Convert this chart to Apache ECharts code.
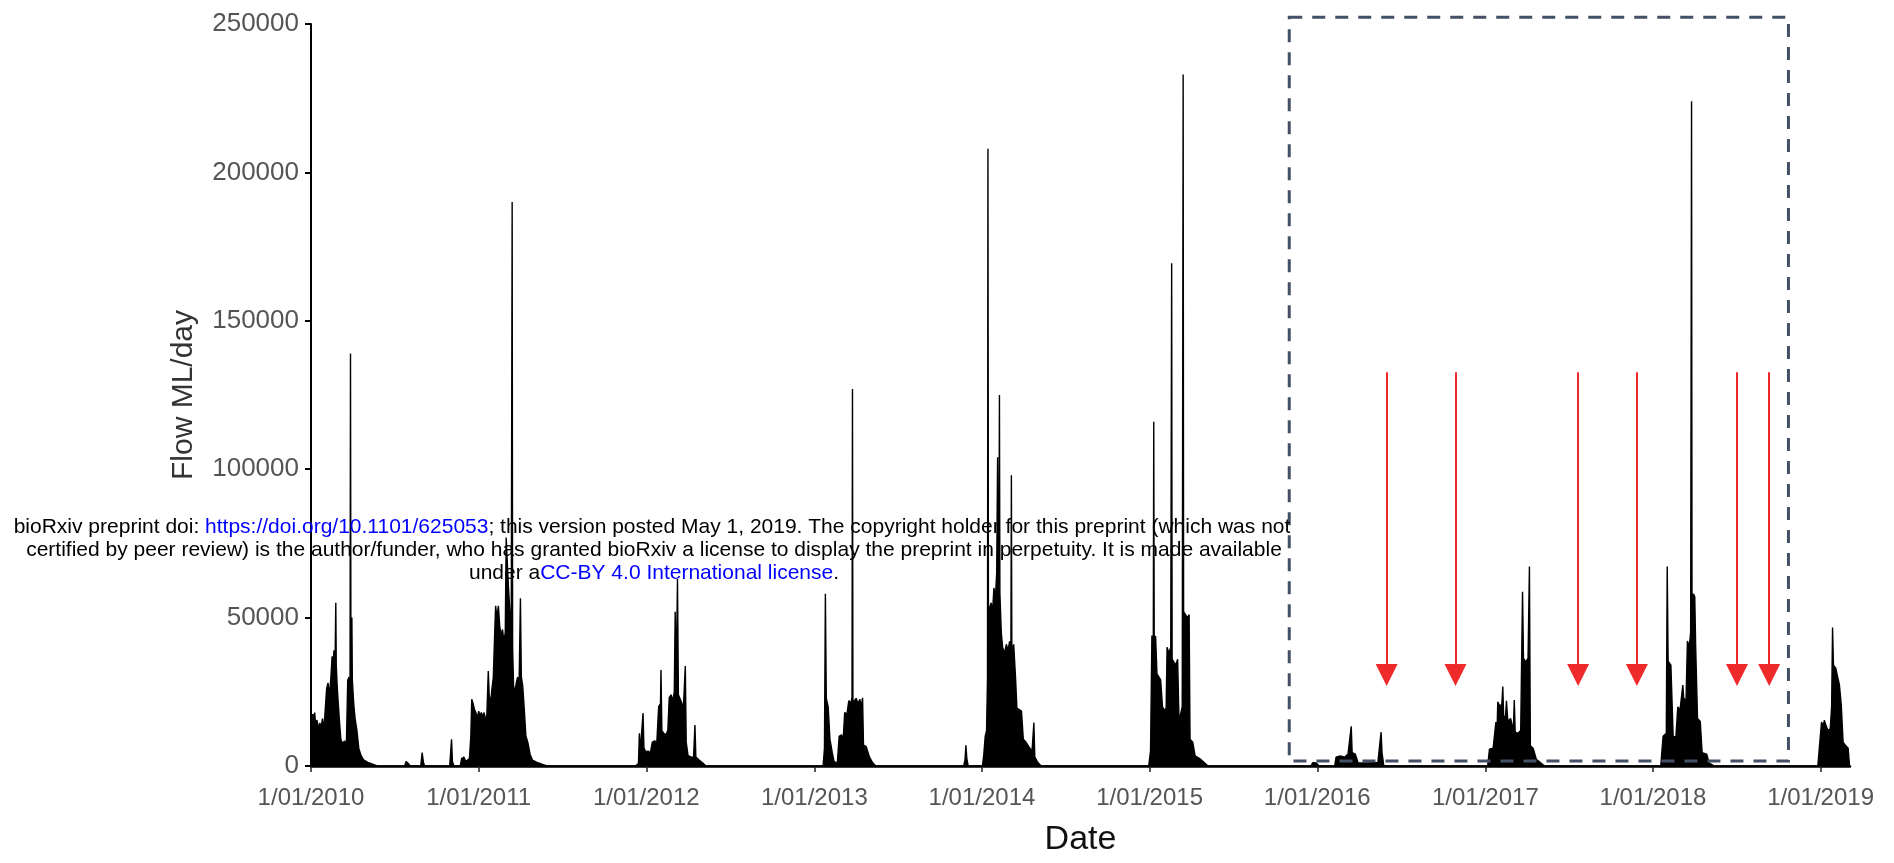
<!DOCTYPE html>
<html>
<head>
<meta charset="utf-8">
<script src="https://cdn.jsdelivr.net/npm/echarts@6/dist/echarts.min.js"></script>
<style>
html,body{margin:0;padding:0;background:#fff;}
#c{width:1894px;height:863px;}
</style>
</head>
<body>
<div id="c"></div>
<script>
// ---- tick labels ----
const xTickDates = ['2010-01-01','2011-01-01','2012-01-01','2013-01-01','2014-01-01','2015-01-01','2016-01-01','2017-01-01','2018-01-01','2019-01-01'];
const xTickLabels = ['1/01/2010','1/01/2011','1/01/2012','1/01/2013','1/01/2014','1/01/2015','1/01/2016','1/01/2017','1/01/2018','1/01/2019'];
const yTickLabels = ['0','50000','100000','150000','200000','250000'];
const xStart = '2010-01-01';
const xEnd = '2019-03-06';

// ---- daily flow (ML/day) ----
const flow2010 = [
['2010-01-01',14000],['2010-01-03',15000],['2010-01-05',17500],['2010-01-07',16000],['2010-01-09',18000],
['2010-01-11',14000],['2010-01-14',15500],['2010-01-17',12500],['2010-01-20',14500],['2010-01-23',13000],
['2010-01-26',16000],['2010-01-29',12000],['2010-02-01',19000],['2010-02-04',26000],['2010-02-07',28000],
['2010-02-10',24000],['2010-02-13',29000],['2010-02-16',37000],['2010-02-18',33000],['2010-02-20',39000],
['2010-02-22',30000],['2010-02-24',55000],['2010-02-25',34000],['2010-02-27',27000],['2010-03-01',22000],
['2010-03-04',15000],['2010-03-07',9000],['2010-03-11',7500],['2010-03-15',8500],['2010-03-19',7000],
['2010-03-22',29000],['2010-03-25',30000],['2010-03-27',24000],['2010-03-28',139000],['2010-03-29',27000],
['2010-03-31',50000],['2010-04-01',29000],['2010-04-04',21000],['2010-04-07',16000],['2010-04-11',12000],
['2010-04-15',6000],['2010-04-20',3500],['2010-04-26',2000],['2010-05-05',1200],['2010-05-15',600],
['2010-05-25',0],['2010-07-24',0],['2010-07-27',1500],['2010-08-01',800],['2010-08-05',0],
['2010-08-28',0],['2010-08-31',4500],['2010-09-03',1000],['2010-09-06',0],['2010-10-30',0],
['2010-11-03',9000],['2010-11-05',1500],['2010-11-08',0],['2010-11-22',0],['2010-11-25',2500],
['2010-11-30',3000],['2010-12-04',1500]
];
const flow2011 = [
['2010-12-12',2500],['2010-12-15',10000],['2010-12-17',22500],['2010-12-20',21000],['2010-12-23',19000],
['2010-12-26',18000],['2010-12-29',16000],['2011-01-01',18500],['2011-01-04',17000],['2011-01-07',18000],
['2011-01-10',16500],['2011-01-13',18000],['2011-01-16',15000],['2011-01-19',17500],['2011-01-22',32000],
['2011-01-24',24000],['2011-01-27',21000],['2011-01-30',26000],['2011-02-02',30000],['2011-02-05',45000],
['2011-02-07',54000],['2011-02-10',50000],['2011-02-13',54000],['2011-02-16',47000],['2011-02-19',44000],
['2011-02-22',46000],['2011-02-25',42000],['2011-02-28',45000],['2011-03-02',77000],['2011-03-04',70000],
['2011-03-07',60000],['2011-03-10',52000],['2011-03-13',45000],['2011-03-15',190000],['2011-03-16',40000],
['2011-03-18',27000],['2011-03-21',25000],['2011-03-24',28000],['2011-03-27',30000],['2011-03-30',26000],
['2011-04-02',56500],['2011-04-04',30000],['2011-04-07',27000],['2011-04-10',20000],['2011-04-14',10000],
['2011-04-18',8000],['2011-04-23',4000],['2011-04-28',2000],['2011-05-08',1200],['2011-05-20',500],
['2011-05-30',0]
];
const flow2012 = [
['2011-12-08',0],['2011-12-11',600],['2011-12-15',800],['2011-12-17',11000],['2011-12-19',5000],
['2011-12-22',5500],['2011-12-25',17800],['2011-12-27',6000],['2011-12-31',4800],['2012-01-05',5000],
['2012-01-10',4500],['2012-01-14',8000],['2012-01-19',8500],['2012-01-24',8000],['2012-01-28',20000],
['2012-02-01',21000],['2012-02-02',32300],['2012-02-04',12000],['2012-02-08',11000],['2012-02-13',10500],
['2012-02-17',12000],['2012-02-20',23000],['2012-02-24',24000],['2012-02-28',22000],['2012-03-02',25000],
['2012-03-04',52000],['2012-03-06',28000],['2012-03-09',63000],['2012-03-11',24000],['2012-03-15',22500],
['2012-03-19',21000],['2012-03-22',20000],['2012-03-26',33700],['2012-03-28',8000],['2012-04-01',3500],
['2012-04-08',3000],['2012-04-13',3000],['2012-04-16',13800],['2012-04-18',3000],['2012-04-25',2000],
['2012-05-03',1000],['2012-05-10',0]
];
const flow2013 = [
['2013-01-20',0],['2013-01-23',6000],['2013-01-25',58000],['2013-01-27',22800],['2013-01-31',20000],
['2013-02-04',9000],['2013-02-09',4500],['2013-02-13',1500],['2013-02-20',1000],['2013-02-24',10000],
['2013-03-01',10500],['2013-03-05',9500],['2013-03-08',18000],['2013-03-13',17500],['2013-03-17',22000],
['2013-03-21',21000],['2013-03-24',23000],['2013-03-25',127000],['2013-03-26',20000],['2013-03-29',22000],
['2013-04-02',22800],['2013-04-06',21000],['2013-04-10',22500],['2013-04-13',20000],['2013-04-16',23000],
['2013-04-18',7000],['2013-04-24',6500],['2013-05-01',3000],['2013-05-08',1100],['2013-05-15',0],
['2013-11-22',0],['2013-11-25',2000],['2013-11-27',7000],['2013-11-29',2500],['2013-12-02',0]
];
const flow2014 = [
['2014-01-02',0],['2014-01-05',4000],['2014-01-08',10000],['2014-01-11',12000],['2014-01-13',30000],
['2014-01-14',208000],['2014-01-15',50000],['2014-01-18',53500],['2014-01-21',55000],['2014-01-24',52000],
['2014-01-27',60000],['2014-01-30',56000],['2014-02-02',65000],['2014-02-04',104000],['2014-02-05',60000],
['2014-02-07',75000],['2014-02-08',125000],['2014-02-09',58000],['2014-02-12',45000],['2014-02-15',40000],
['2014-02-19',38000],['2014-02-23',41000],['2014-02-27',39000],['2014-03-02',42000],['2014-03-05',40000],
['2014-03-06',98000],['2014-03-07',38000],['2014-03-11',41000],['2014-03-15',30000],['2014-03-18',19500],
['2014-03-23',19000],['2014-03-28',18500],['2014-04-01',9000],['2014-04-07',8000],['2014-04-13',6500],
['2014-04-20',5000],['2014-04-24',14600],['2014-04-26',3000],['2014-05-03',1100],['2014-05-10',0]
];
const flow2015 = [
['2014-12-30',0],['2015-01-03',5000],['2015-01-06',44000],['2015-01-09',40000],['2015-01-10',116000],
['2015-01-11',42000],['2015-01-14',43800],['2015-01-17',31000],['2015-01-21',30000],['2015-01-25',29000],
['2015-01-29',20000],['2015-02-02',18800],['2015-02-06',19500],['2015-02-08',40000],['2015-02-12',38000],
['2015-02-16',40000],['2015-02-18',169400],['2015-02-19',36000],['2015-02-23',35900],['2015-02-27',34000],
['2015-03-03',36000],['2015-03-06',15000],['2015-03-10',14800],['2015-03-13',20000],['2015-03-15',233000],
['2015-03-16',52000],['2015-03-20',51800],['2015-03-24',50000],['2015-03-28',51000],['2015-03-30',9000],
['2015-04-05',8000],['2015-04-10',3400],['2015-04-20',2500],['2015-05-01',1000],['2015-05-08',0]
];
const flow2016 = [
['2015-12-18',0],['2015-12-22',1100],['2015-12-30',1000],['2016-01-05',0],['2016-02-08',0],
['2016-02-11',3000],['2016-02-20',3400],['2016-03-01',3000],['2016-03-08',4000],['2016-03-15',13400],
['2016-03-17',4500],['2016-03-24',4000],['2016-03-30',1000],['2016-04-20',1000],['2016-05-12',1200],
['2016-05-19',11400],['2016-05-21',4500],['2016-05-25',0]
];
const flow2017 = [
['2017-01-06',0],['2017-01-10',5700],['2017-01-18',6000],['2017-01-24',14800],['2017-01-26',8000],
['2017-01-28',21600],['2017-02-02',20000],['2017-02-06',21000],['2017-02-08',26800],['2017-02-10',16000],
['2017-02-14',17000],['2017-02-16',22000],['2017-02-19',15000],['2017-02-25',16000],['2017-03-03',12000],
['2017-03-05',22200],['2017-03-07',11400],['2017-03-13',11000],['2017-03-19',12000],['2017-03-23',58700],
['2017-03-25',36400],['2017-03-30',35000],['2017-04-04',36400],['2017-04-07',67200],['2017-04-09',6800],
['2017-04-15',6000],['2017-04-22',2300],['2017-05-02',1000],['2017-05-10',0]
];
const flow2018 = [
['2018-01-18',0],['2018-01-23',10000],['2018-01-30',11000],['2018-02-01',67200],['2018-02-03',35300],
['2018-02-09',34000],['2018-02-14',9700],['2018-02-20',10000],['2018-02-24',19900],['2018-03-01',19000],
['2018-03-07',27300],['2018-03-09',22800],['2018-03-14',22000],['2018-03-17',42100],['2018-03-21',40000],
['2018-03-24',45000],['2018-03-26',224000],['2018-03-27',55000],['2018-03-30',58000],['2018-04-02',57000],
['2018-04-04',40000],['2018-04-08',16000],['2018-04-14',15000],['2018-04-18',4500],['2018-04-28',4000],
['2018-05-03',1100],['2018-05-14',0]
];
const flow2019 = [
['2018-12-26',0],['2018-12-29',5700],['2019-01-03',14800],['2019-01-07',13500],['2019-01-09',15400],
['2019-01-12',14000],['2019-01-17',12000],['2019-01-22',12500],['2019-01-25',20000],['2019-01-27',46700],
['2019-01-29',34000],['2019-02-03',33000],['2019-02-07',30000],['2019-02-11',27300],['2019-02-15',20500],
['2019-02-19',8000],['2019-02-25',6800],['2019-03-02',6000],['2019-03-05',0]
];

// ---- annotations ----
const boxCorners = [['2015-11-01', 1700], ['2018-10-23', 252300]];
const arrowDates = ['2016-05-31','2016-10-28','2017-07-22','2017-11-27','2018-07-03','2018-09-11'];
const arrowTop = 132700;
const arrowEnd = 30700;

function toTs(s){ const p = s.split('-').map(Number); return Date.UTC(p[0], p[1]-1, p[2]); }

const flowData = [].concat(flow2010, flow2011, flow2012, flow2013, flow2014, flow2015, flow2016, flow2017, flow2018, flow2019)
  .map(d => [toTs(d[0]), d[1]]);
const tickTs = xTickDates.map(toTs);
const boxData = [[toTs(boxCorners[0][0]), boxCorners[0][1], toTs(boxCorners[1][0]), boxCorners[1][1]]];
const FONT = '"Liberation Sans", Arial, Helvetica, sans-serif';

const chart = echarts.init(document.getElementById('c'), null, {renderer: 'canvas'});
chart.setOption({
  animation: false,
  backgroundColor: '#ffffff',
  grid: { left: 311, top: 24, width: 1539, height: 742, containLabel: false },
  xAxis: {
    type: 'value', min: toTs(xStart), max: toTs(xEnd),
    name: 'Date', nameLocation: 'middle', nameGap: 57,
    nameTextStyle: { fontSize: 34, color: '#111', fontFamily: FONT },
    axisLine: { show: true, lineStyle: { color: '#000', width: 2.5 } },
    axisTick: { show: true, length: 6, lineStyle: { color: '#222', width: 1.5 }, customValues: tickTs },
    axisLabel: {
      customValues: tickTs, color: '#555', fontSize: 24, fontFamily: FONT, margin: 20,
      showMinLabel: true, showMaxLabel: true,
      formatter: v => { const i = tickTs.indexOf(v); return i >= 0 ? xTickLabels[i] : ''; }
    },
    splitLine: { show: false }
  },
  yAxis: {
    type: 'value', min: 0, max: 250000, interval: 50000,
    name: 'Flow ML/day', nameLocation: 'middle', nameGap: 112,
    nameTextStyle: { fontSize: 30, color: '#333', fontFamily: FONT },
    axisLine: { show: true, lineStyle: { color: '#000', width: 2 } },
    axisTick: { show: true, length: 6, lineStyle: { color: '#000', width: 2 } },
    axisLabel: { color: '#555', fontSize: 26, fontFamily: FONT, margin: 12,
      formatter: v => yTickLabels[Math.round(v / 50000)] },
    splitLine: { show: false }
  },
  series: [{
    type: 'line', data: flowData, symbol: 'none', showSymbol: false, clip: false,
    lineStyle: { color: '#000', width: 1.4 },
    areaStyle: { color: '#000', opacity: 1 },
    markLine: {
      silent: true, symbol: ['none', 'triangle'], symbolSize: [22, 22],
      label: { show: false },
      lineStyle: { color: '#ee2a2a', width: 2, type: 'solid' },
      data: arrowDates.map(d => [{ coord: [toTs(d), arrowTop] }, { coord: [toTs(d), arrowEnd] }])
    }
  }, {
    type: 'custom', clip: false, silent: true, z: 5,
    data: boxData,
    renderItem: function (params, api) {
      const p0 = api.coord([api.value(0), api.value(1)]);
      const p1 = api.coord([api.value(2), api.value(3)]);
      return {
        type: 'rect',
        shape: { x: Math.min(p0[0], p1[0]), y: Math.min(p0[1], p1[1]), width: Math.abs(p1[0] - p0[0]), height: Math.abs(p1[1] - p0[1]) },
        style: { fill: null, stroke: '#435066', lineWidth: 3, lineDash: [13, 10] }
      };
    }
  }],
  graphic: [
    { type: 'text', x: 652, y: 527, z: 100, style: { text: 'bioRxiv preprint doi: {b|https://doi.org/10.1101/625053}; this version posted May 1, 2019. The copyright holder for this preprint (which was not', font: '21px ' + FONT, fill: '#000', align: 'center', verticalAlign: 'middle', rich: { b: { fill: '#0000ff', font: '21px ' + FONT } } } },
    { type: 'text', x: 654, y: 550, z: 100, style: { text: 'certified by peer review) is the author/funder, who has granted bioRxiv a license to display the preprint in perpetuity. It is made available', font: '21px ' + FONT, fill: '#000', align: 'center', verticalAlign: 'middle' } },
    { type: 'text', x: 654, y: 573, z: 100, style: { text: 'under a{b|CC-BY 4.0 International license}.', font: '21px ' + FONT, fill: '#000', align: 'center', verticalAlign: 'middle', rich: { b: { fill: '#0000ff', font: '21px ' + FONT } } } }
  ]
});
</script>
</body>
</html>
